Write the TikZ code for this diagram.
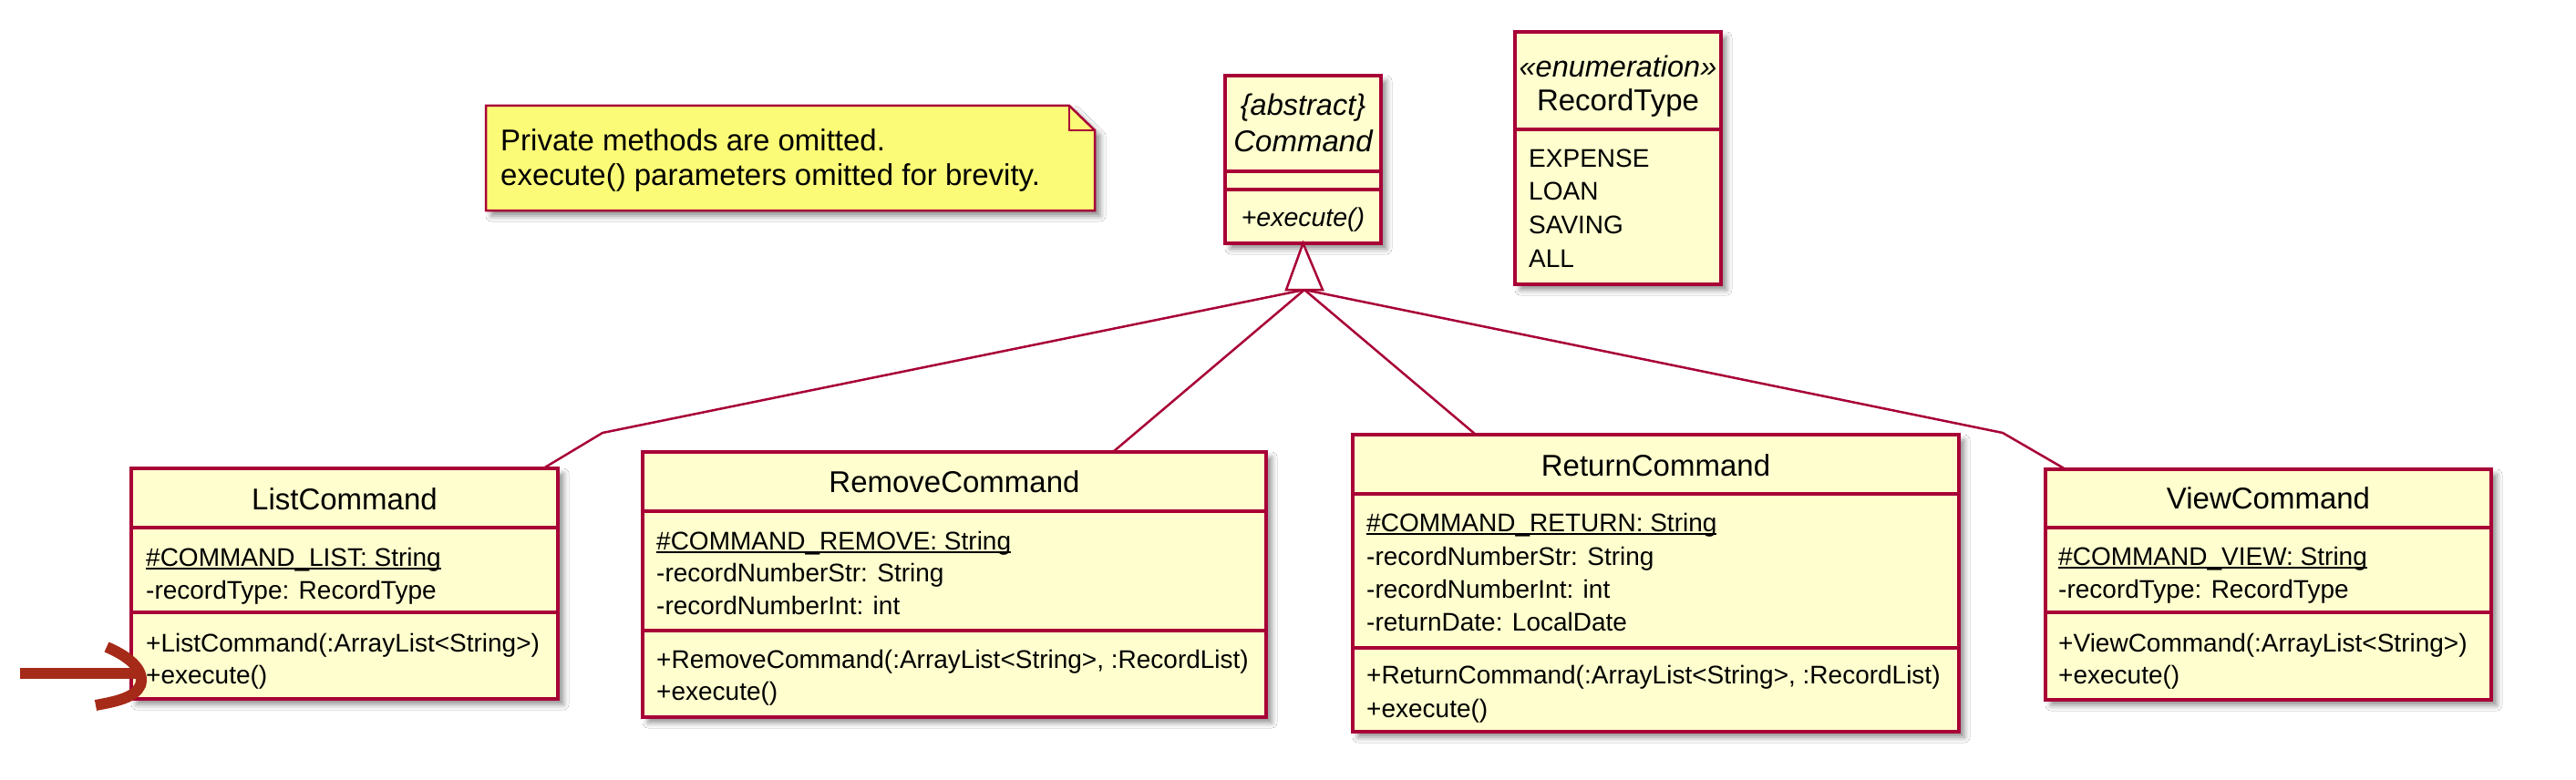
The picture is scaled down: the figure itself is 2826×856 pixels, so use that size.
\documentclass[tikz,border=0pt]{standalone}
\usepackage{fontspec}
\setmainfont{Liberation Sans}
\usetikzlibrary{shadows.blur}
\definecolor{umlborder}{RGB}{168,0,54}
\definecolor{umlfill}{RGB}{254,254,206}
\definecolor{notefill}{RGB}{251,251,119}
\definecolor{markred}{RGB}{166,42,24}
\newcommand\statictext[1]{\setbox0\hbox{#1}\rlap{\rule[-3.5pt]{\wd0}{2pt}}\box0}
\begin{document}
\begin{tikzpicture}[x=1pt,y=-1pt,
  shadowed/.style={blur shadow={shadow xshift=6pt, shadow yshift=-6pt, shadow blur radius=6pt, shadow opacity=45}},
  umlbox/.style={draw=umlborder, fill=umlfill, line width=3.2pt, outer sep=0pt, inner sep=0pt, anchor=north west, shadowed},
  sepline/.style={draw=umlborder, line width=3.2pt},
  conn/.style={draw=umlborder, line width=2.5pt, line join=round},
  member/.style={font=\fontsize{28}{32}\selectfont, anchor=base west, inner sep=0pt},
  imember/.style={font=\fontsize{28.5}{32}\selectfont\itshape, anchor=base, inner sep=0pt},
  ctitle/.style={font=\fontsize{33}{38}\selectfont, anchor=base, inner sep=0pt},
  ititle/.style={font=\fontsize{33}{38}\selectfont\itshape, anchor=base, inner sep=0pt},
  stereo/.style={font=\fontsize{32.5}{36}\selectfont\itshape, anchor=base, inner sep=0pt},
  notetext/.style={font=\fontsize{33}{38}\selectfont, anchor=base west, inner sep=0pt, align=left},
  markline/.style={draw=markred, line width=12pt}]

\useasboundingbox[fill=white] (0,0) rectangle (2826,856);

% ---------- note ----------
\path[fill=notefill, draw=umlborder, line width=2.5pt, line join=miter, shadowed]
  (533,116) -- (1173,116) -- (1201,143) -- (1201,231) -- (533,231) -- cycle;
\draw[umlborder, line width=2.5pt] (1173,116) -- (1173,143) -- (1201,143);
\node[notetext] (noteL1) at (549,165) {Private methods are omitted.};
\node[notetext] (noteL2) at (549,203) {execute() parameters omitted for brevity.};

% ---------- Command ----------
\node[umlbox, minimum width=171pt, minimum height=184pt] (cmd) at (1344,83) {};
\draw[sepline] (cmd.west |- 0,188) -- (cmd.east |- 0,188);
\draw[sepline] (cmd.west |- 0,208) -- (cmd.east |- 0,208);
\node[stereo] (cmdS) at (cmd.north |- 0,127) {\{abstract\}};
\node[ititle] (cmdT) at (cmd.north |- 0,166) {Command};
\node[imember] (cmdM1) at (cmd.north |- 0,248) {+execute()};

% ---------- RecordType ----------
\node[umlbox, minimum width=226pt, minimum height=277pt] (rt) at (1662,35) {};
\draw[sepline] (rt.west |- 0,142) -- (rt.east |- 0,142);
\node[stereo] (rtS) at (rt.north |- 0,85) {«enumeration»};
\node[ctitle] (rtT) at (rt.north |- 0,122) {RecordType};
\node[member] (rtV1) at (1677,183) {EXPENSE};
\node[member] (rtV2) at (1677,219) {LOAN};
\node[member] (rtV3) at (1677,256) {SAVING};
\node[member] (rtV4) at (1677,293) {ALL};

% ---------- ListCommand ----------
\node[umlbox, minimum width=468pt, minimum height=253pt] (list) at (144,514) {};
\draw[sepline] (list.west |- 0,579) -- (list.east |- 0,579);
\draw[sepline] (list.west |- 0,672) -- (list.east |- 0,672);
\node[ctitle] (listT) at (list.north |- 0,559) {ListCommand};
\node[member] (listA1) at (160,621) {\statictext{\#COMMAND\_LIST: String}};
\node[member] (listA2) at (160,657) {-recordType: RecordType};
\node[member] (listM1) at (160,715) {+ListCommand(:ArrayList<String>)};
\node[member] (listM2) at (160,750) {+execute()};

% ---------- RemoveCommand ----------
\node[umlbox, minimum width=684pt, minimum height=291pt] (rem) at (705,496) {};
\draw[sepline] (rem.west |- 0,561) -- (rem.east |- 0,561);
\draw[sepline] (rem.west |- 0,692) -- (rem.east |- 0,692);
\node[ctitle] (remT) at (rem.north |- 0,540) {RemoveCommand};
\node[member] (remA1) at (720,603) {\statictext{\#COMMAND\_REMOVE: String}};
\node[member] (remA2) at (720,638) {-recordNumberStr: String};
\node[member] (remA3) at (720,674) {-recordNumberInt: int};
\node[member] (remM1) at (720,733) {+RemoveCommand(:ArrayList<String>, :RecordList)};
\node[member] (remM2) at (720,768) {+execute()};

% ---------- ReturnCommand ----------
\node[umlbox, minimum width=665pt, minimum height=326pt] (ret) at (1484,477) {};
\draw[sepline] (ret.west |- 0,542) -- (ret.east |- 0,542);
\draw[sepline] (ret.west |- 0,711) -- (ret.east |- 0,711);
\node[ctitle] (retT) at (ret.north |- 0,522) {ReturnCommand};
\node[member] (retA1) at (1499,583) {\statictext{\#COMMAND\_RETURN: String}};
\node[member] (retA2) at (1499,620) {-recordNumberStr: String};
\node[member] (retA3) at (1499,656) {-recordNumberInt: int};
\node[member] (retA4) at (1499,692) {-returnDate: LocalDate};
\node[member] (retM1) at (1499,750) {+ReturnCommand(:ArrayList<String>, :RecordList)};
\node[member] (retM2) at (1499,787) {+execute()};

% ---------- ViewCommand ----------
\node[umlbox, minimum width=489pt, minimum height=253pt] (view) at (2244,515) {};
\draw[sepline] (view.west |- 0,579) -- (view.east |- 0,579);
\draw[sepline] (view.west |- 0,672) -- (view.east |- 0,672);
\node[ctitle] (viewT) at (view.north |- 0,558) {ViewCommand};
\node[member] (viewA1) at (2258,620) {\statictext{\#COMMAND\_VIEW: String}};
\node[member] (viewA2) at (2258,656) {-recordType: RecordType};
\node[member] (viewM1) at (2258,715) {+ViewCommand(:ArrayList<String>)};
\node[member] (viewM2) at (2258,750) {+execute()};

% ---------- generalisation ----------
\coordinate (triBase) at (1431,318);
\coordinate (listBend) at (661,475);
\coordinate (viewBend) at (2197,475);
\draw[conn] (triBase) -- (listBend) -- ([xshift=452pt]list.north west);
\draw[conn] (triBase) -- ([xshift=516pt]rem.north west);
\draw[conn] (triBase) -- ([xshift=135pt]ret.north west);
\draw[conn] (triBase) -- (viewBend) -- ([xshift=22pt]view.north west);
\draw[conn, fill=white, line join=miter] (cmd.south) -- (1451,318) -- (1411,318) -- cycle;

% ---------- annotation mark ----------
\coordinate (markStart) at (22,739);
\coordinate (markEnd) at (150,739);
\draw[markline] (markStart) -- (markEnd);
\draw[markline] (117,710) .. controls (145,722) and (159,737) .. (154,752)
  .. controls (148,766) and (126,770) .. (105,774);
\end{tikzpicture}
\end{document}
